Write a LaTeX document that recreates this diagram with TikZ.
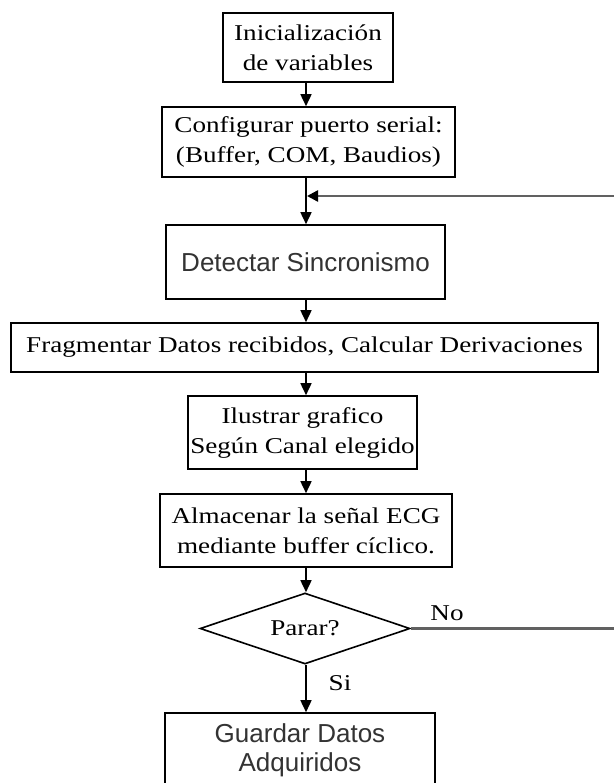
\documentclass[tikz,border=0pt]{standalone}
\usepackage{fontspec}
\setmainfont{Liberation Serif}[FakeStretch=1.2]
\newfontfamily\sansf{Liberation Sans}
\usetikzlibrary{shapes.geometric,arrows.meta}
\begin{document}
\begin{tikzpicture}[x=1pt,y=-1pt,
  box/.style={draw=black,line width=1.6pt,fill=white,inner sep=0pt,align=center,
    font=\fontsize{22.6}{30}\selectfont},
  sbox/.style={box,font=\sansf\fontsize{26}{29}\selectfont,text=black!80},
  decision/.style={diamond,draw=black,line width=1.6pt,fill=white,inner sep=0pt,aspect=3,
    font=\fontsize{22.6}{30}\selectfont},
  lbl/.style={inner sep=0pt,font=\fontsize{22.6}{30}\selectfont},
  flow/.style={line width=1.6pt,-{Triangle[length=12pt,width=11pt]}},
  back/.style={line width=2.4pt,draw=black!62,-{Triangle[length=11pt,width=11pt,color=black]}}]
\useasboundingbox (0,0) rectangle (613,783);
\fill[white] (0,0) rectangle (613,783);
\coordinate (ax) at (306,0);

\node[box,minimum width=170pt,minimum height=69pt] (b1) at (308,47.5) {Inicialización\\de variables};
\node[box,minimum width=293pt,minimum height=70pt] (b2) at (308.5,142) {Configurar puerto serial:\\(Buffer, COM, Baudios)};
\node[sbox,minimum width=279pt,minimum height=74pt] (b3) at (305.5,262) {Detectar Sincronismo};
\node[box,minimum width=587pt,minimum height=49pt] (b4) at (304.5,347.5) {Fragmentar Datos recibidos, Calcular Derivaciones};
\node[box,minimum width=229pt,minimum height=73pt] (b5) at (302.5,432.5) {Ilustrar grafico\\Según Canal elegido};
\node[box,minimum width=292pt,minimum height=73pt] (b6) at (306,530.5) {Almacenar la señal ECG\\mediante buffer cíclico.};
\node[decision,minimum width=210pt,minimum height=71pt] (d) at (305,628.5) {Parar?};
\node[sbox,minimum width=270pt,minimum height=74pt] (b7) at (300,750) {Guardar Datos\\Adquiridos};

\node[lbl] (no) at (447,613) {No};
\node[lbl] (si) at (340,683) {Si};

\coordinate (fb) at (307,196);
\coordinate (c1) at (620,628.5);
\coordinate (c2) at (620,196);

\draw[flow] (b1.south -| ax) -- (b2.north -| ax);
\draw[flow] (b2.south -| ax) -- (b3.north -| ax);
\draw[flow] (b3.south -| ax) -- (b4.north -| ax);
\draw[flow] (b4.south -| ax) -- (b5.north -| ax);
\draw[flow] (b5.south -| ax) -- (b6.north -| ax);
\draw[flow] (b6.south -| ax) -- (d.north -| ax);
\draw[flow] (d.south -| ax) -- (b7.north -| ax);
\draw[back] (d.east) -- (c1) -- (c2) -- (fb);
\end{tikzpicture}
\end{document}
